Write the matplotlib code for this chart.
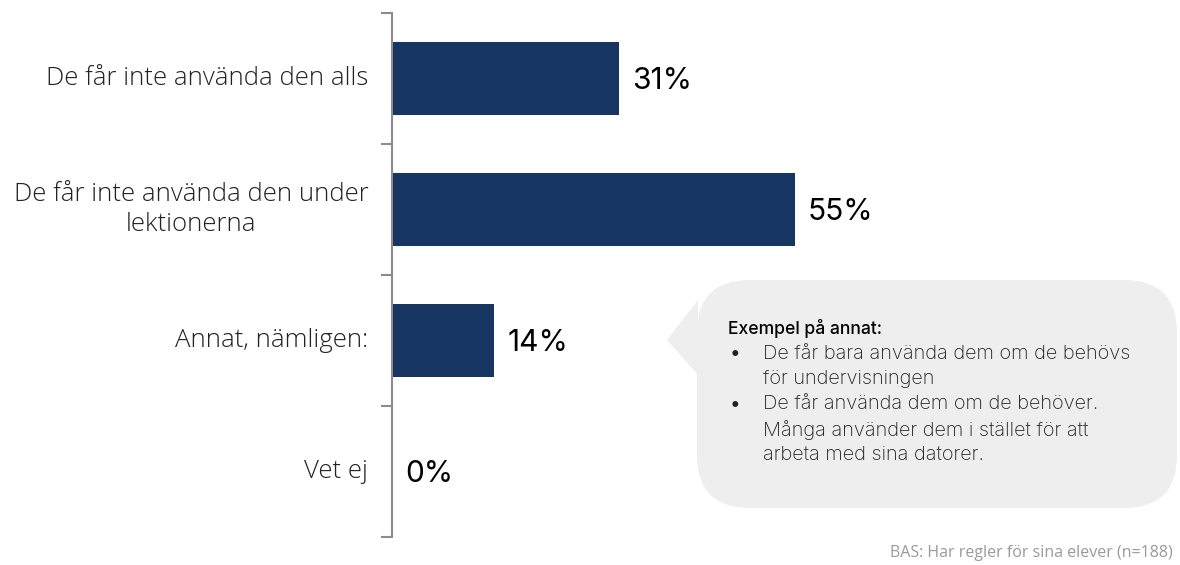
import matplotlib.pyplot as plt
from matplotlib.patches import FancyBboxPatch, Polygon

categories = ["De får inte använda den alls",
              "De får inte använda den under\nlektionerna",
              "Annat, nämligen:",
              "Vet ej"]
values = [31, 55, 14, 0]
value_labels = ["31%", "55%", "14%", "0%"]

callout_title = "Exempel på annat:"
callout_items = ["De får bara använda dem om de behövs\nför undervisningen",
                 "De får använda dem om de behöver.\nMånga använder dem i stället för att\narbeta med sina datorer."]
footnote = "BAS: Har regler för sina elever (n=188)"

bar_color = "#173561"

fig = plt.figure(figsize=(11.8, 5.65), dpi=100)
ax = fig.add_axes([0.332, 0.0496, 0.621, 0.9274])

y = list(range(len(categories)))
ax.barh(y, values, height=0.56, color=bar_color)
ax.set_ylim(len(categories) - 0.5, -0.5)
ax.set_xlim(0, 100)

# label the bars
for yi, v, lab in zip(y, values, value_labels):
    ax.text(v + 1.8, yi + 0.02, lab, va="center", ha="left", fontsize=21.5,
            family="Inter", color="black")

for s in ["top", "right", "bottom"]:
    ax.spines[s].set_visible(False)
ax.spines["left"].set_color("#8c8c8c")
ax.spines["left"].set_linewidth(1.5)
ax.set_xticks([])
ax.set_yticks([i - 0.5 for i in range(len(categories) + 1)], minor=False)
ax.set_yticklabels([])
ax.tick_params(axis="y", length=8, width=1.5, color="#8c8c8c")
for yi, cat in zip(y, categories):
    ax.text(-0.032, yi, cat, transform=ax.get_yaxis_transform(), ha="right",
            va="center", fontsize=18.5, family="Open Sans", fontweight="light",
            color="#222222", multialignment="center", linespacing=1.25)

# callout bubble
W, H = 1180, 565
def fx(px): return px / W
def fy(py): return 1 - py / H

box = FancyBboxPatch((fx(697), fy(508)), fx(1177) - fx(697), fy(280) - fy(508),
                     boxstyle="round,pad=0,rounding_size=0.045",
                     transform=fig.transFigure, facecolor="#eeeeee",
                     edgecolor="none", mutation_aspect=W / H)
fig.patches.append(box)
tri = Polygon([(fx(698), fy(300)), (fx(667), fy(340)), (fx(698), fy(375))],
              closed=True, transform=fig.transFigure, facecolor="#eeeeee",
              edgecolor="none")
fig.patches.append(tri)

fig.text(fx(728), fy(328), callout_title, fontsize=12.6, fontweight="medium",
         family="Inter", va="center", ha="left", color="black")
line_h = 25.2
yy = 354
for item in callout_items:
    fig.text(fx(730), fy(yy), "•", fontsize=13.5, family="Inter",
             va="center", ha="left", color="#222222")
    for ln in item.split("\n"):
        fig.text(fx(763), fy(yy), ln, fontsize=14.4, family="Inter",
                 fontweight="light", va="center", ha="left", color="#222222")
        yy += line_h

fig.text(fx(1173), fy(553), footnote, fontsize=11.5, family="Open Sans",
         color="#9a9a9a", ha="right", va="center")

fig.savefig("out.png", dpi=100)
